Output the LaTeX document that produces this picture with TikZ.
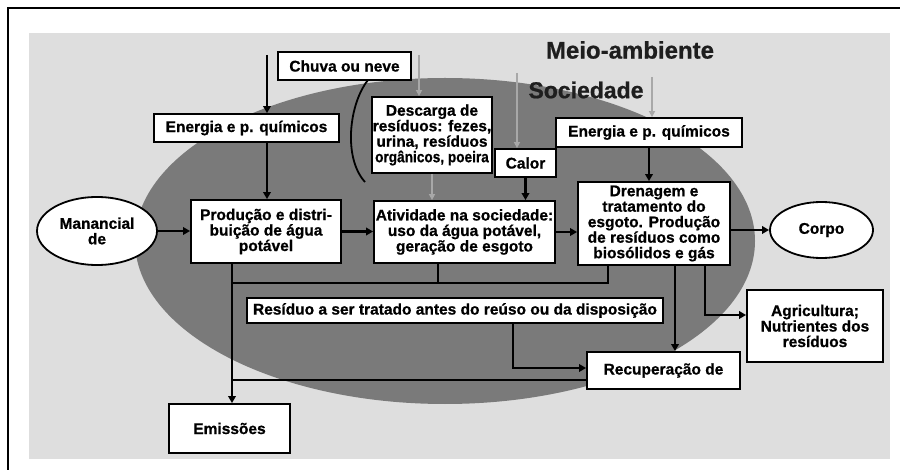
\documentclass[tikz,border=0pt]{standalone}
\usepackage{fontspec}
\setmainfont{Liberation Sans}[BoldFeatures={FakeBold=0.8}]
\usetikzlibrary{arrows.meta,shapes.geometric}
\definecolor{bglight}{HTML}{DEDEDE}
\definecolor{ellgray}{HTML}{7A7A7A}
\definecolor{arrgray}{HTML}{A8A8A8}
\definecolor{titlegray}{HTML}{1E1E1E}
\begin{document}
\begin{tikzpicture}[x=1pt,y=-1pt,
  box/.style={draw=black,line width=1.8pt,fill=white,align=center,inner sep=0pt,
    font=\fontsize{15.5}{15.5}\selectfont\bfseries},
  oval/.style={box,ellipse},
  title/.style={font=\fontsize{24}{24}\selectfont\bfseries,text=titlegray,inner sep=0pt},
  conn/.style={line width=2.8pt,black},
  arr/.style={conn,-{Triangle[length=7pt,width=7.5pt]}},
  garr/.style={line width=2pt,arrgray,-{Triangle[length=6pt,width=6pt]}}]
\useasboundingbox (0,0) rectangle (900,470);
\fill[white] (0,0) rectangle (900,470);
\draw[line width=2.5pt] (8,475) -- (8,8) -- (905,8);
\fill[bglight] (29,33) rectangle (890,459);
\fill[ellgray] (445,241) ellipse [x radius=310pt, y radius=163pt];

\node[title] (meio) at (630,50) {Meio-ambiente};
\node[title,font=\fontsize{23}{23}\selectfont\bfseries] (soc) at (586,90) {Sociedade};

\node[box,minimum width=133pt,minimum height=28pt] (chuva) at (344.5,66) {Chuva ou neve};
\node[box,minimum width=185pt,minimum height=28pt] (en1) at (246.5,128) {Energia e p. químicos};
\node[box,minimum width=120pt,minimum height=76pt] (desc) at (432,135)
  {Descarga de\\resíduos: fezes,\\urina, resíduos\\\scalebox{0.88}[1]{orgânicos, poeira}};
\node[box,minimum width=61pt,minimum height=28pt] (calor) at (525.5,163) {Calor};
\node[box,minimum width=186pt,minimum height=29pt] (en2) at (649,132.5) {Energia e p. químicos};
\node[box,minimum width=150pt,minimum height=63pt] (prod) at (266,231.5)
  {Produção e distri-\\buição de água\\potável};
\node[box,minimum width=181pt,minimum height=62pt] (ativ) at (464.5,232)
  {Atividade na sociedade:\\uso da água potável,\\geração de esgoto};
\node[box,minimum width=152pt,minimum height=83pt] (dren) at (654,223.5)
  {Drenagem e\\tratamento do\\esgoto. Produção\\de resíduos como\\biosólidos e gás};
\node[box,minimum width=416pt,minimum height=25pt] (res) at (455,310.5)
  {Resíduo a ser tratado antes do reúso ou da disposição};
\node[box,minimum width=153pt,minimum height=37pt] (recup) at (663.5,370.5) {Recuperação de};
\node[box,minimum width=136pt,minimum height=72pt] (agri) at (815,326)
  {Agricultura;\\Nutrientes dos\\resíduos};
\node[box,minimum width=121pt,minimum height=49pt] (emis) at (229.5,428.5) {Emissões};
\node[oval,minimum width=120pt,minimum height=68pt] (man) at (97,231) {Manancial\\de};
\node[oval,minimum width=103pt,minimum height=56pt] (corpo) at (821.5,230) {Corpo};

\coordinate (t1) at (267,55);
\coordinate (g1) at (419,55);
\coordinate (g3) at (517,73);
\coordinate (g4) at (652,77);
\coordinate (j1) at (232,283);
\coordinate (j2) at (438,283);
\coordinate (j3) at (608,283);
\coordinate (d1) at (675,300);
\coordinate (d2) at (705,315);
\coordinate (r1) at (513,368);
\coordinate (e1) at (232,380);

\draw[line width=1.8pt] (368,80) .. controls (349,104) and (343,158) .. (365,182);

\draw[arr] (t1) -- (t1 |- en1.north);
\draw[arr] (en1.south -| t1) -- (prod.north -| t1);
\draw[garr] (g1) -- (g1 |- desc.north);
\draw[garr] (desc.south) -- (desc.south |- ativ.north);
\draw[garr] (g3) -- (g3 |- calor.north);
\draw[garr] (g4) -- (g4 |- en2.north);
\draw[arr] (calor.south) -- (calor.south |- ativ.north);
\draw[arr] (en2.south) -- (en2.south |- dren.north);
\draw[arr] (man.east) -- (man.east -| prod.west);
\draw[arr] (prod.east) -- (prod.east -| ativ.west);
\draw[arr] (ativ.east) -- (ativ.east -| dren.west);
\draw[arr] (corpo.west -| dren.east) -- (corpo.west);
\draw[conn] (j2 |- ativ.south) -- (j2);
\draw[conn] (j3 |- dren.south) -- (j3) -- (j1);
\draw[arr] (j1 |- prod.south) -- (j1 |- emis.north);
\draw[arr] (d1 |- dren.south) -- (d1 |- recup.north);
\draw[arr] (d2 |- dren.south) -- (d2) -- (d2 -| agri.west);
\draw[arr] (r1 |- res.south) -- (r1) -- (r1 -| recup.west);
\draw[conn] (e1 -| recup.west) -- (e1);
\end{tikzpicture}
\end{document}
